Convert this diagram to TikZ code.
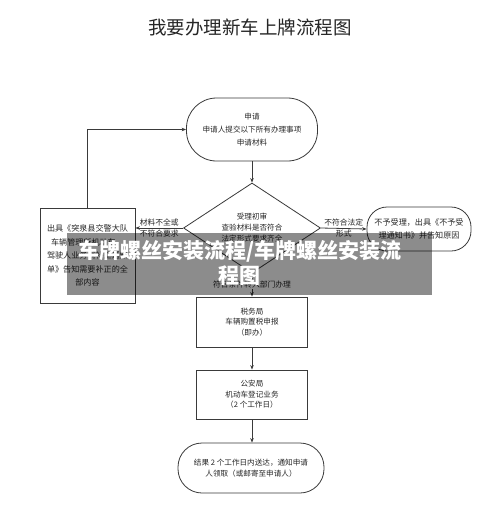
\documentclass[tikz,border=0pt]{standalone}
\usepackage{fontspec}
\newfontfamily\cjk{Noto Sans CJK SC}
\usetikzlibrary{shapes.geometric,arrows.meta}
\definecolor{ln}{HTML}{3A3A3A}
\tikzset{
  box/.style={draw=ln, line width=0.8pt, align=center, inner sep=0pt, text=black!85,
    font=\cjk\fontsize{7.6}{10.5}\selectfont},
  arr/.style={draw=ln, line width=0.8pt, -{Stealth[length=4.5pt,width=3.5pt]}},
  lbl/.style={font=\cjk\fontsize{7.8}{9}\selectfont, inner sep=1.5pt, text=black!85},
}
\begin{document}
\begin{tikzpicture}[x=1pt,y=-1pt]
\useasboundingbox (0,0) rectangle (500,528);
\fill[white] (0,0) rectangle (500,528);

\node[font=\cjk\fontsize{18.5}{20}\selectfont, text=black!85] (title) at (250,27) {我要办理新车上牌流程图};

\node[box, rounded corners=30pt, minimum width=131pt, minimum height=63pt,
  font=\cjk\fontsize{7.6}{13}\selectfont] (apply) at (252,129.5)
  {申请\\申请人提交以下所有办理事项\\申请材料};

\node[box, diamond, aspect=1.52, minimum width=137pt, minimum height=90pt,
  font=\cjk\fontsize{7.6}{11}\selectfont] (check) at (252,228)
  {受理初审\\查验材料是否符合\\法定形式要求齐全};

\node[box, minimum width=95pt, minimum height=95pt,
  font=\cjk\fontsize{8.1}{13.5}\selectfont] (fix) at (87.5,255.5)
  {出具《突泉县交警大队\\车辆管理所机动车、\\驾驶人业务《补正通知\\单》告知需要补正的全\\部内容};

\node[box, rounded corners=20pt, minimum width=104pt, minimum height=44pt,
  font=\cjk\fontsize{8.1}{13}\selectfont] (reject) at (419,229)
  {不予受理，出具《不予受\\理通知书》并告知原因};

\node[box, minimum width=111pt, minimum height=50pt] (tax) at (252,322)
  {税务局\\车辆购置税申报\\（即办）};

\node[box, minimum width=111pt, minimum height=49pt] (police) at (252,394.5)
  {公安局\\机动车登记业务\\（2 个工作日）};

\node[box, rounded corners=24pt, minimum width=146pt, minimum height=50pt,
  font=\cjk\fontsize{7.6}{11}\selectfont] (result) at (251,468)
  {结果 2 个工作日内送达，通知申请\\人领取（或邮寄至申请人）};

\draw[arr] (apply) -- (check);
\draw[arr] (check.west) -- (check.west -| fix.east)
  node[lbl, midway, above] {材料不全或}
  node[lbl, midway, below] {不符合要求};
\draw[arr] (check.east) -- (reject.west)
  node[lbl, midway, above] {不符合法定}
  node[lbl, midway, below] {形式};
\draw[arr] (check.south) -- (check.south |- tax.north)
  node[lbl, midway, fill=white, inner sep=0.5pt] {符合条件转入部门办理};
\draw[arr] (tax) -- (police);
\draw[arr] (police.south) -- (police.south |- result.north);
\draw[arr] (fix.north) |- (apply.west);

\node[fill=black, fill opacity=0.45, minimum width=365pt, minimum height=62pt, inner sep=0pt] (bandbg) at (249.5,264) {};
\node[font=\cjk\bfseries\fontsize{21}{25}\selectfont, text=white, align=center] (band) at (240,262.5)
  {车牌螺丝安装流程/车牌螺丝安装流\\程图};
\end{tikzpicture}
\end{document}
